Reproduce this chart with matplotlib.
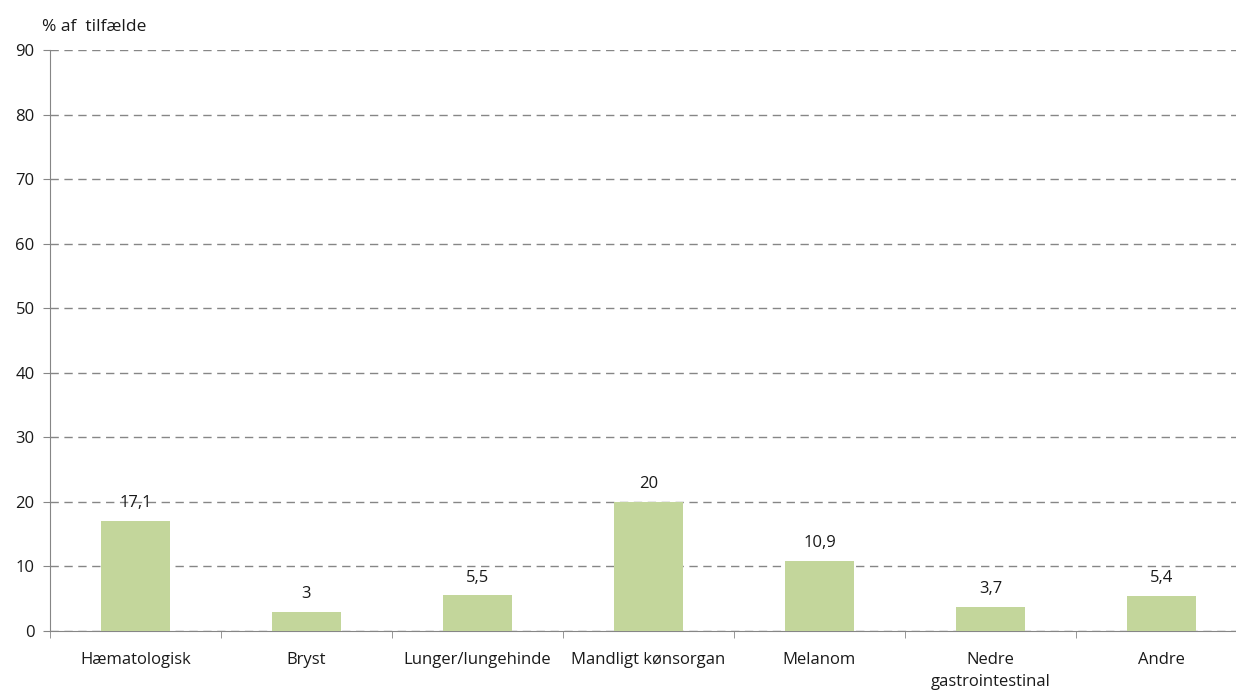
import matplotlib
matplotlib.use('Agg')
import matplotlib.pyplot as plt
import numpy as np

categories = ['Hæmatologisk', 'Bryst', 'Lunger/lungehinde', 'Mandligt kønsorgan',
              'Melanom', 'Nedre\ngastrointestinal', 'Andre']
values = [17.1, 3, 5.5, 20, 10.9, 3.7, 5.4]
yticks = [0, 10, 20, 30, 40, 50, 60, 70, 80, 90]

BAR_COLOR = '#C3D69B'
AXIS_COLOR = '#868686'
TEXT_COLOR = '#1a1a1a'
FS = 12

plt.rcParams['font.family'] = ['Open Sans', 'DejaVu Sans']

fig = plt.figure(figsize=(12.36, 6.91), dpi=100)
ax = fig.add_axes([50 / 1236, 60 / 691, 1197 / 1236, 581 / 691])

x = np.arange(len(categories))
ax.bar(x, values, width=0.4, color=BAR_COLOR, zorder=3)

for xi, v in zip(x, values):
    label = ('%g' % v).replace('.', ',')
    ax.text(xi, v + 1.5, label, ha='center', va='bottom', fontsize=FS, color=TEXT_COLOR, zorder=4)

ax.set_xlim(-0.5, len(categories) - 0.5)
ax.set_ylim(0, 90)
ax.set_yticks(yticks)
ax.set_yticklabels([str(t) for t in yticks], fontsize=FS, color=TEXT_COLOR)
ax.yaxis.grid(True, color=AXIS_COLOR, linestyle=(0, (6, 4)), linewidth=1.0, zorder=0)

ax.set_xticks(x)
ax.set_xticklabels(categories, fontsize=FS, color=TEXT_COLOR, linespacing=1.55)
ax.tick_params(axis='x', length=0, pad=15)
ax.set_xticks(np.arange(len(categories) + 1) - 0.5, minor=True)
ax.tick_params(axis='x', which='minor', length=5, color=AXIS_COLOR)
ax.tick_params(axis='y', length=5, color=AXIS_COLOR, pad=6)

for side in ['top', 'right']:
    ax.spines[side].set_visible(False)
for side in ['left', 'bottom']:
    ax.spines[side].set_color(AXIS_COLOR)

fig.text(42 / 1236, 1 - 27 / 691, '% af  tilfælde', fontsize=12.5, va='center', ha='left',
         color=TEXT_COLOR)

fig.savefig('out.png', dpi=100)
